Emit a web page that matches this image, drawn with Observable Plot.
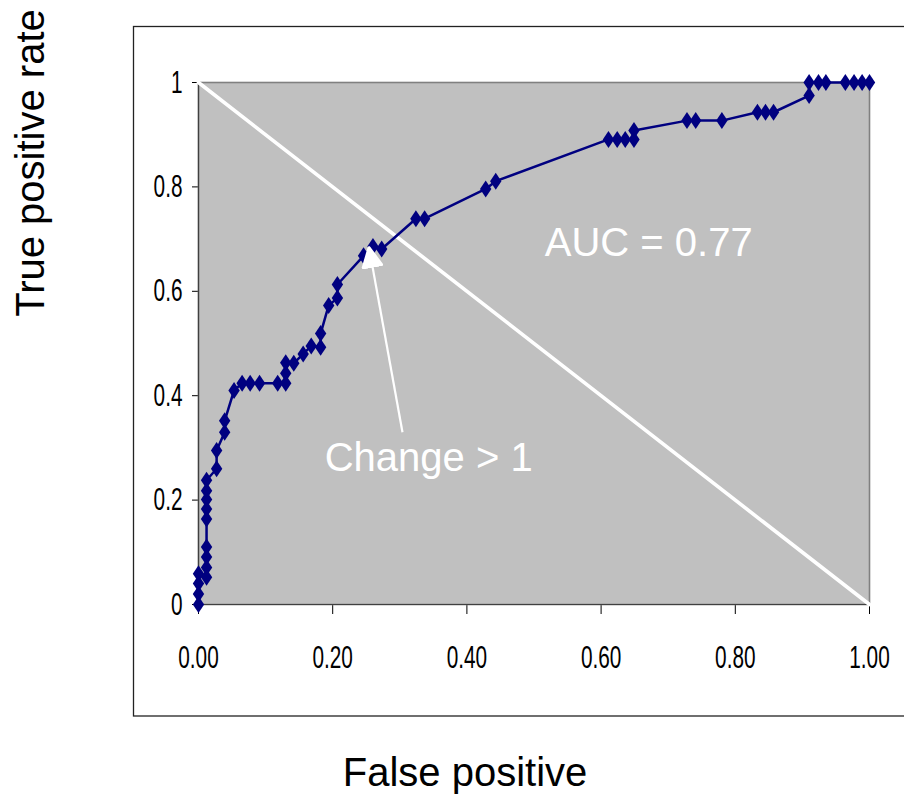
<!DOCTYPE html>
<html>
<head>
<meta charset="utf-8">
<script src="https://cdn.jsdelivr.net/npm/d3@7"></script>
<script src="https://cdn.jsdelivr.net/npm/@observablehq/plot@0.6"></script>
<style>
  html, body { margin: 0; padding: 0; background: #fff; }
  #chart svg { display: block; }
</style>
</head>
<body>
<div id="chart"></div>
<script>
// ROC operating points (false positive rate, true positive rate)
const fpr = [
  0, 0, 0, 0,
  0.012, 0.012, 0.012, 0.012, 0.012, 0.012, 0.012, 0.012, 0.012,
  0.027, 0.027, 0.039, 0.039, 0.053,
  0.065, 0.077, 0.091, 0.118, 0.13, 0.13, 0.13,
  0.142, 0.156, 0.168, 0.182, 0.182,
  0.194, 0.207, 0.207,
  0.246, 0.26, 0.273,
  0.324, 0.337,
  0.428, 0.443,
  0.611, 0.624, 0.636, 0.649, 0.649,
  0.728, 0.741, 0.78,
  0.833, 0.845, 0.857,
  0.91, 0.91, 0.924, 0.935, 0.964, 0.977, 0.989, 1
];
const tpr = [
  0, 0.02, 0.04, 0.059,
  0.052, 0.071, 0.091, 0.11, 0.164, 0.183, 0.201, 0.218, 0.238,
  0.26, 0.295, 0.33, 0.352, 0.41,
  0.424, 0.424, 0.424, 0.424, 0.424, 0.443, 0.463,
  0.462, 0.48, 0.495, 0.493, 0.519,
  0.573, 0.587, 0.613,
  0.668, 0.686, 0.681,
  0.739, 0.739,
  0.796, 0.811,
  0.891, 0.891, 0.891, 0.891, 0.908,
  0.927, 0.927, 0.927,
  0.943, 0.943, 0.943,
  0.975, 1, 1, 1, 1, 1, 1, 1
];

const xTicks = [0, 0.2, 0.4, 0.6, 0.8, 1];
const yTicks = [0, 0.2, 0.4, 0.6, 0.8, 1];

// chance line
const chanceFpr = [0, 1];
const chanceTpr = [1, 0];

// annotations
const aucLabel = "AUC = 0.77";
const aucAt = [0.671, 0.693];
const changeLabel = "Change > 1";
const changeAt = [0.343, 0.28];
const arrowFrom = [0.304, 0.33];
const arrowTo = [0.254, 0.685];

const xTitle = "False positive";
const yTitle = "True positive rate";

const points = fpr.map((x, i) => ({x, y: tpr[i]}));
const chance = chanceFpr.map((x, i) => ({x, y: chanceTpr[i]}));

// tall, narrow diamond marker
const tallDiamond = {
  draw(context) {
    context.moveTo(0, -8.5);
    context.lineTo(5.7, 0);
    context.lineTo(0, 8.5);
    context.lineTo(-5.7, 0);
    context.closePath();
  }
};

// filled triangular arrow head
const filledHead = (color, context) => {
  const doc = (context && context.document) || document;
  const ns = "http://www.w3.org/2000/svg";
  const m = doc.createElementNS(ns, "marker");
  m.setAttribute("viewBox", "-21 -11 22 22");
  m.setAttribute("markerUnits", "userSpaceOnUse");
  m.setAttribute("markerWidth", 22);
  m.setAttribute("markerHeight", 22);
  m.setAttribute("refX", 0);
  m.setAttribute("refY", 0);
  m.setAttribute("orient", "auto");
  const p = doc.createElementNS(ns, "path");
  p.setAttribute("d", "M0,0L-20,-10L-20,10Z");
  p.setAttribute("fill", "#ffffff");
  m.appendChild(p);
  return m;
};

const chart = Plot.plot({
  width: 904,
  height: 797,
  marginLeft: 198,
  marginRight: 35,
  marginTop: 82,
  marginBottom: 193,
  style: {fontFamily: "'Liberation Sans', Arial, sans-serif", fontSize: "31.5px", color: "#000", background: "#fff"},
  x: {domain: [0, 1], ticks: xTicks, tickFormat: d3.format(".2f"), tickSize: 10, tickPadding: 31, label: null},
  y: {domain: [0, 1], ticks: yTicks, tickFormat: d => String(d), tickSize: 6, tickPadding: 10, label: null},
  marks: [
    Plot.frame({fill: "#c0c0c0", stroke: "#808080", strokeWidth: 1.6}),
    Plot.ruleX([0], {stroke: "#404040", strokeWidth: 1.2}),
    Plot.ruleY([0], {stroke: "#404040", strokeWidth: 1.2}),
    Plot.line(chance, {x: "x", y: "y", stroke: "#ffffff", strokeWidth: 3.6}),
    Plot.line(points, {x: "x", y: "y", stroke: "#000080", strokeWidth: 2.5}),
    Plot.dot(points, {x: "x", y: "y", symbol: tallDiamond, fill: "#000080", stroke: "none"}),
    Plot.link([{x1: arrowFrom[0], y1: arrowFrom[1], x2: arrowTo[0], y2: arrowTo[1]}],
      {x1: "x1", y1: "y1", x2: "x2", y2: "y2", stroke: "#ffffff", strokeWidth: 2.2, markerEnd: filledHead}),
    Plot.text([{x: aucAt[0], y: aucAt[1], t: aucLabel}],
      {x: "x", y: "y", text: "t", fill: "#ffffff", fontSize: 40, textAnchor: "middle", lineAnchor: "middle"}),
    Plot.text([{x: changeAt[0], y: changeAt[1], t: changeLabel}],
      {x: "x", y: "y", text: "t", fill: "#ffffff", fontSize: 40, textAnchor: "middle", lineAnchor: "middle"})
  ]
});

// condensed tick labels
chart.querySelectorAll('g[aria-label^="x-axis"] text, g[aria-label^="y-axis"] text').forEach(t => {
  const tr = t.getAttribute("transform") || "";
  const x = t.getAttribute("x");
  if (x != null) t.removeAttribute("x");
  t.setAttribute("transform", `${tr} translate(${x || 0},0) scale(0.66,1)`);
  t.setAttribute("font-weight", "normal");
});

const svg = d3.select(chart);

// outer chart border
svg.insert("rect", ":first-child")
  .attr("x", 133.5).attr("y", 26.5)
  .attr("width", 820).attr("height", 689.5)
  .attr("fill", "none").attr("stroke", "#222").attr("stroke-width", 1.3);

// axis titles
svg.append("text")
  .attr("x", 465).attr("y", 786)
  .attr("text-anchor", "middle")
  .attr("font-size", 40)
  .attr("fill", "#000")
  .text(xTitle);

svg.append("text")
  .attr("transform", "translate(44,163) rotate(-90)")
  .attr("text-anchor", "middle")
  .attr("font-size", 40)
  .attr("fill", "#000")
  .text(yTitle);

document.getElementById("chart").appendChild(chart);
</script>
</body>
</html>
